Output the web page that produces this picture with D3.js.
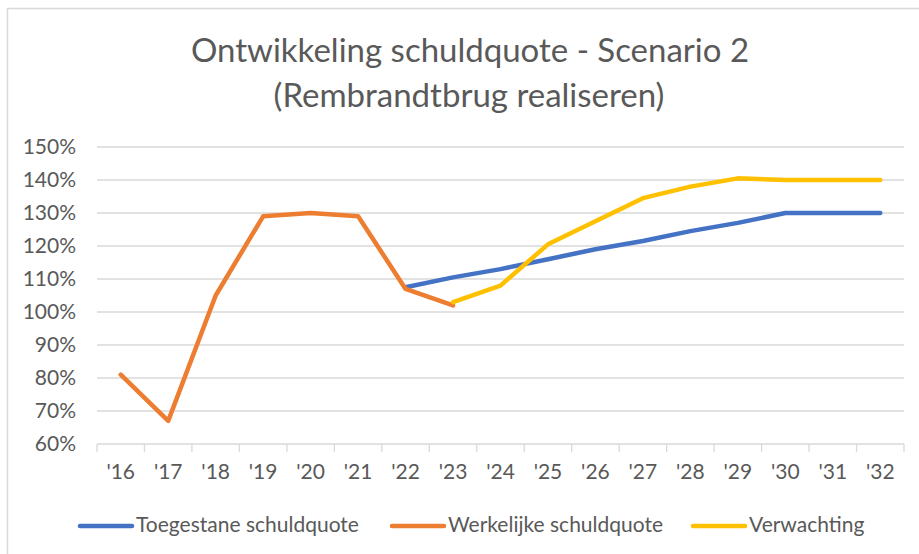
<!DOCTYPE html>
<html>
<head>
<meta charset="utf-8">
<script src="https://cdn.jsdelivr.net/npm/d3@7"></script>
<style>
body { margin: 0; background: #fff; }
text { font-family: Lato, "Open Sans", sans-serif; fill: #595959; }
</style>
</head>
<body>
<div id="chart"></div>
<script>
// data (in %)
var years = ["'16", "'17", "'18", "'19", "'20", "'21", "'22", "'23", "'24", "'25", "'26", "'27", "'28", "'29", "'30", "'31", "'32"];
var toegestaan = [null, null, null, null, null, null, 107.5, 110.5, 113, 116, 119, 121.5, 124.5, 127, 130, 130, 130];
var werkelijk = [81, 67, 105, 129, 130, 129, 107, 102, null, null, null, null, null, null, null, null, null];
var verwachting = [null, null, null, null, null, null, null, 103, 108, 120.5, 127.5, 134.5, 138, 140.5, 140, 140, 140];
var yTicks = [60, 70, 80, 90, 100, 110, 120, 130, 140, 150];
var seriesNames = ["Toegestane schuldquote", "Werkelijke schuldquote", "Verwachting"];
var colors = ["#4472C4", "#ED7D31", "#FFC000"];

var W = 919, H = 554;
var svg = d3.select('#chart').append('svg').attr('width', W).attr('height', H);

// frame (only top and left edge are inside the picture)
svg.append('rect')
    .attr('x', 7.5).attr('y', 8.5)
    .attr('width', W + 10).attr('height', H + 10)
    .attr('fill', 'none')
    .attr('stroke', '#d9d9d9')
    .attr('stroke-width', 1.5);

var x = d3.scaleBand().domain(years).range([97, 904]);
var y = d3.scaleLinear().domain([60, 150]).range([444, 147]);
var cx = (d) => x(d) + x.bandwidth() / 2;

// grid
svg.append('g')
    .selectAll('line')
    .data(yTicks.slice(1))
    .enter()
    .append('line')
    .attr('x1', 97).attr('x2', 904)
    .attr('y1', (d) => y(d)).attr('y2', (d) => y(d))
    .attr('stroke', '#d9d9d9')
    .attr('stroke-width', 1.3);

// y labels
var yAxis = svg.append('g')
    .attr('transform', 'translate(90,0)')
    .call(d3.axisLeft(y).tickValues(yTicks).tickSize(0).tickPadding(14).tickFormat((d) => d + '%'));
yAxis.select('.domain').remove();
yAxis.selectAll('text').style('font-size', '21px').attr('fill', '#595959').attr('font-family', 'Lato');

// x axis line + boundary ticks
svg.append('line')
    .attr('x1', 97).attr('x2', 904)
    .attr('y1', 444).attr('y2', 444)
    .attr('stroke', '#d9d9d9').attr('stroke-width', 1.3);
var bounds = years.map((d) => x(d)).concat([x(years[years.length - 1]) + x.bandwidth()]);
svg.append('g')
    .selectAll('line')
    .data(bounds)
    .enter()
    .append('line')
    .attr('x1', (d) => d).attr('x2', (d) => d)
    .attr('y1', 444).attr('y2', 452)
    .attr('stroke', '#d9d9d9').attr('stroke-width', 1.3);

var xAxis = svg.append('g')
    .attr('transform', 'translate(0,444)')
    .call(d3.axisBottom(x).tickSize(0).tickPadding(20));
xAxis.select('.domain').remove();
xAxis.selectAll('text').style('font-size', '21px').attr('fill', '#595959').attr('font-family', 'Lato');

// lines
var line = d3.line()
    .defined((d) => d.v != null)
    .x((d) => cx(d.year))
    .y((d) => y(d.v));

[toegestaan, werkelijk, verwachting].forEach(function (vals, i) {
    var pts = years.map((yr, k) => ({ year: yr, v: vals[k] }));
    svg.append('path')
        .datum(pts)
        .attr('d', line)
        .attr('fill', 'none')
        .attr('stroke', colors[i])
        .attr('stroke-width', 4.5)
        .attr('stroke-linejoin', 'round')
        .attr('stroke-linecap', 'round');
});

// title
svg.append('text')
    .attr('x', 470).attr('y', 62)
    .attr('text-anchor', 'middle')
    .style('font-size', '33px')
    .text('Ontwikkeling schuldquote - Scenario 2');
svg.append('text')
    .attr('x', 469).attr('y', 107)
    .attr('text-anchor', 'middle')
    .style('font-size', '33px')
    .text('(Rembrandtbrug realiseren)');

// legend
var legendX = [80, 392, 693];
var legend = svg.append('g');
seriesNames.forEach(function (name, i) {
    legend.append('line')
        .attr('x1', legendX[i]).attr('x2', legendX[i] + 52)
        .attr('y1', 526).attr('y2', 526)
        .attr('stroke', colors[i]).attr('stroke-width', 4.5)
        .attr('stroke-linecap', 'round');
    legend.append('text')
        .attr('x', legendX[i] + 56).attr('y', 532)
        .style('font-size', '21px')
        .text(name);
});
</script>
</body>
</html>
